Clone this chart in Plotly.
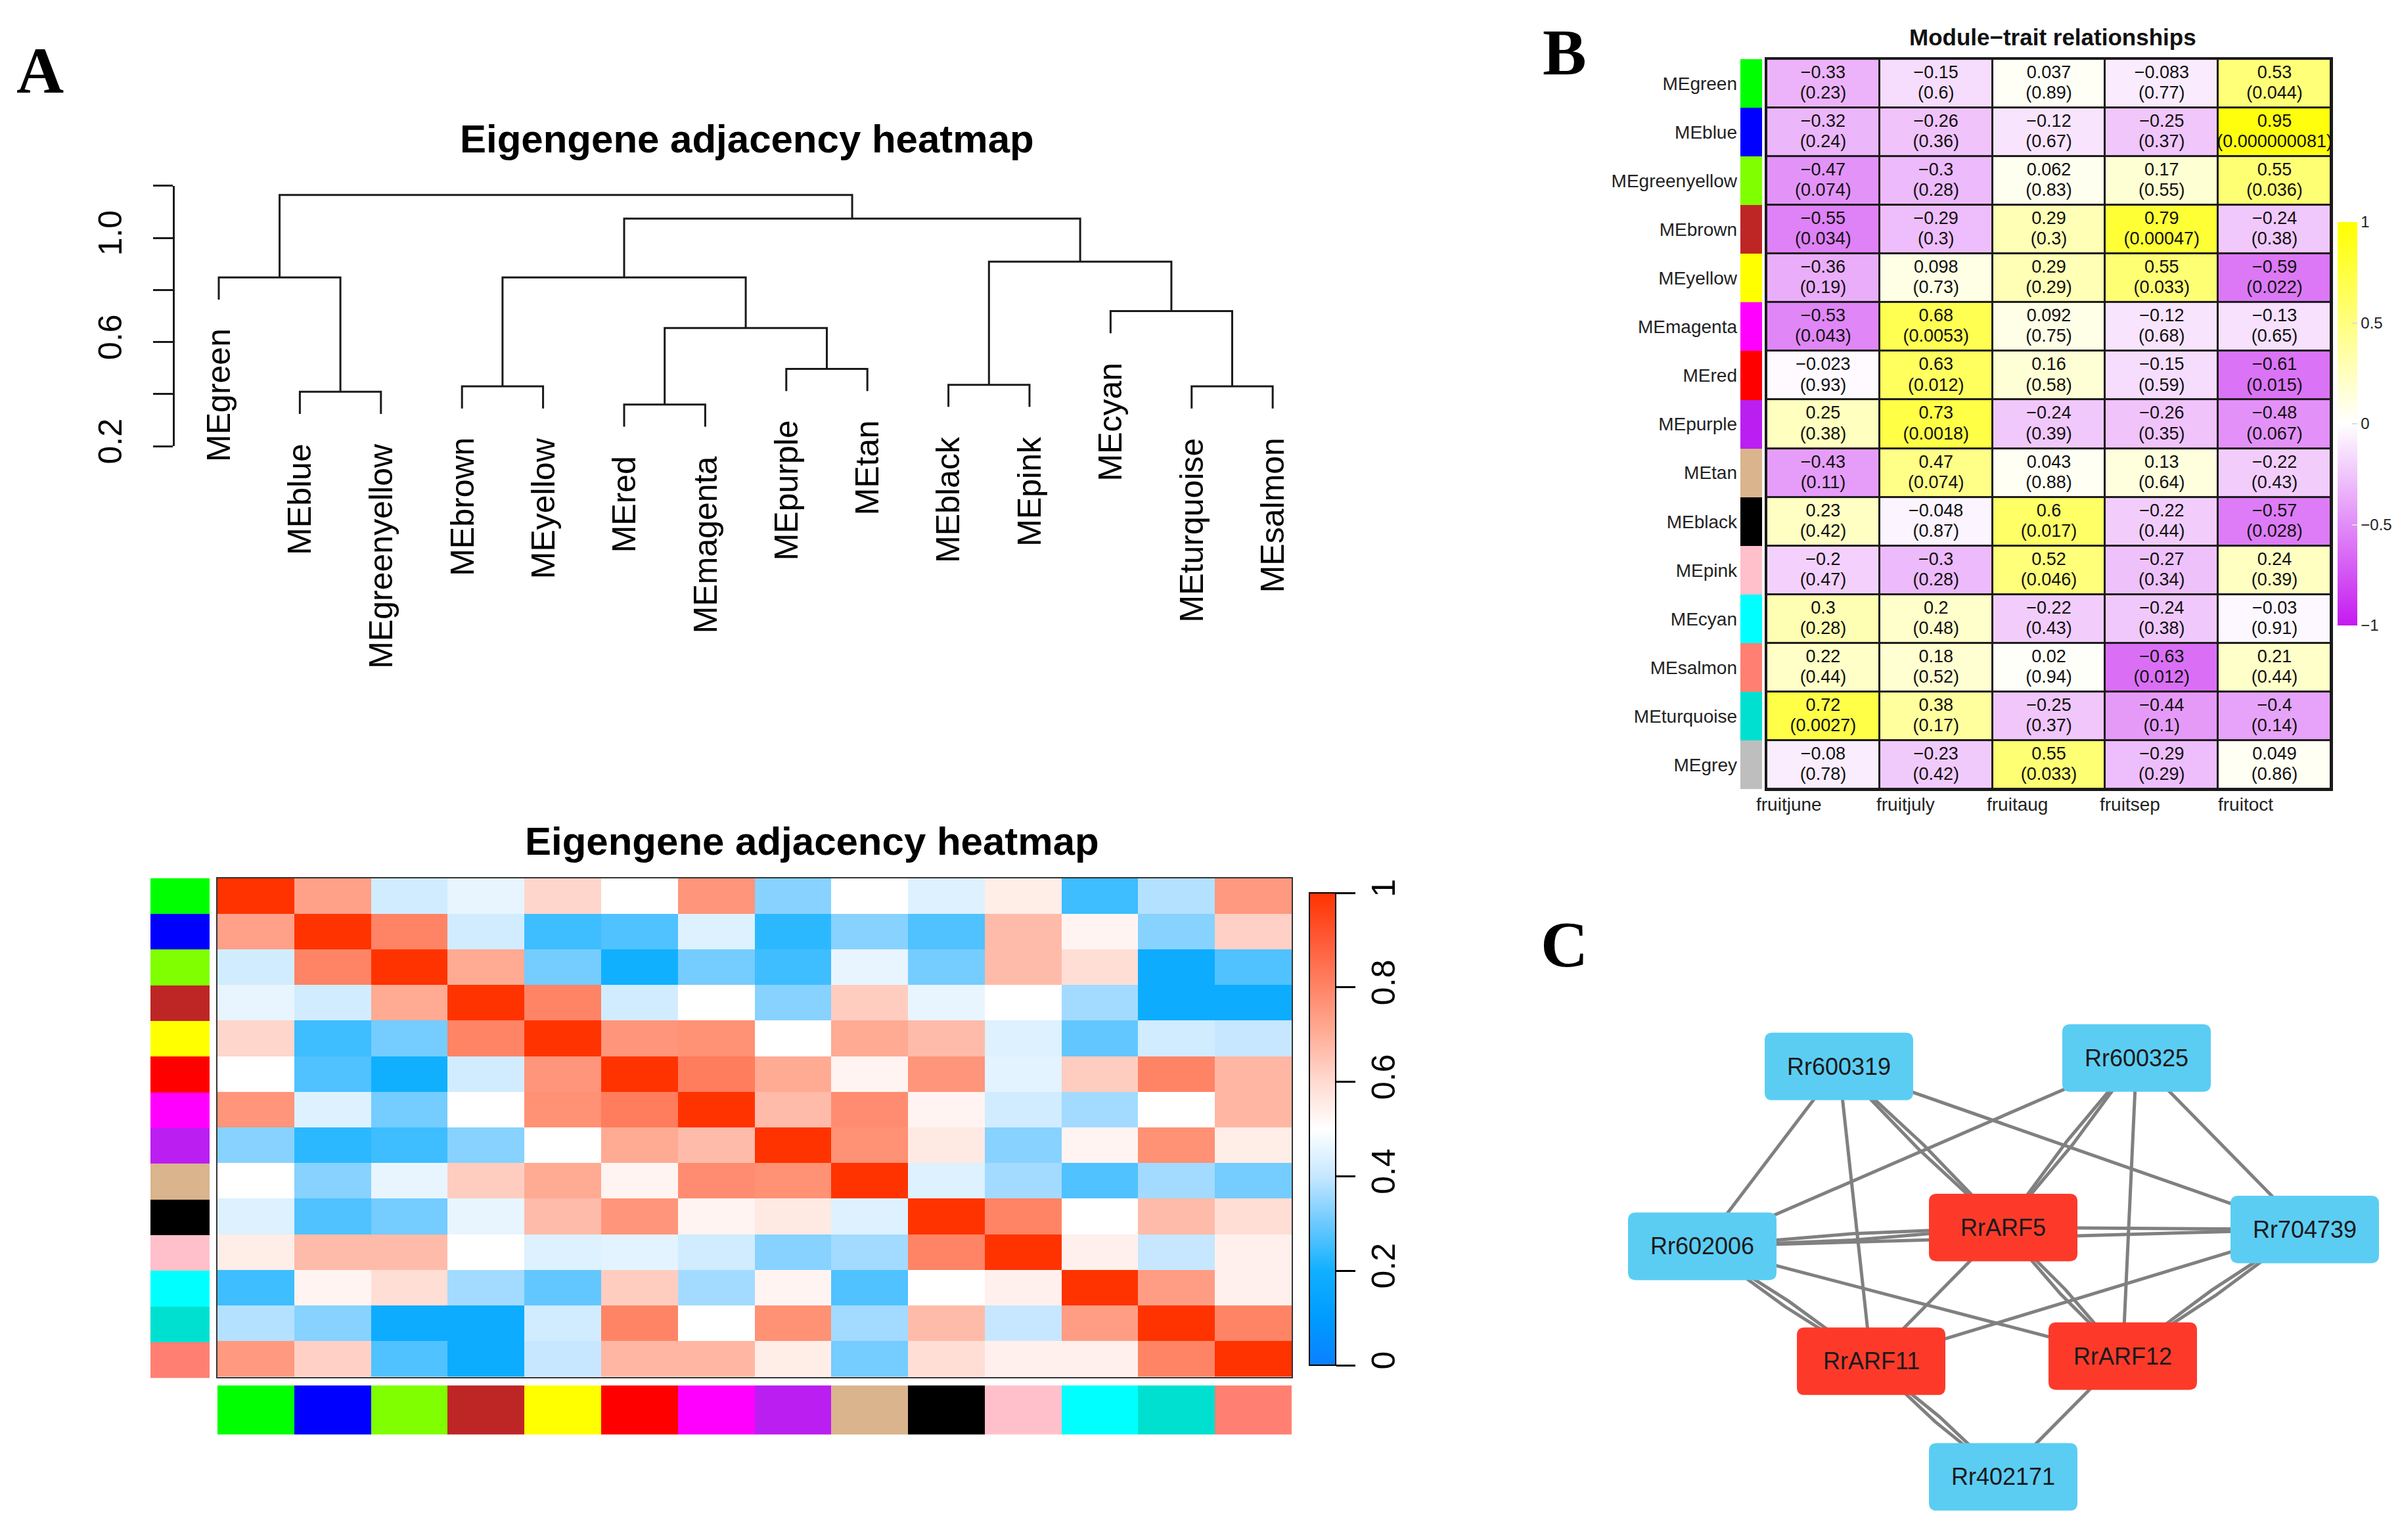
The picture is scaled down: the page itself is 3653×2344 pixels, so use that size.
import plotly.graph_objects as go

W, H = 3653, 2344
FONT = "Liberation Sans, Arial, sans-serif"
SERIF = "Liberation Serif, Times New Roman, serif"

# ---------------- Panel A: dendrogram ----------------
leaf_names = ["MEgreen", "MEblue", "MEgreenyellow", "MEbrown", "MEyellow", "MEred",
              "MEmagenta", "MEpurple", "MEtan", "MEblack", "MEpink", "MEcyan",
              "MEturquoise", "MEsalmon"]
# hclust-style merges: negative = leaf (1-based), positive = earlier merge (1-based)
merge_left = [-2, -6, -4, -13, -10, -8, 2, -12, -1, 3, 5, 10, 9]
merge_right = [-3, -7, -5, -14, -11, -9, 6, 4, 1, 7, 8, 11, 12]
merge_height = [0.409, 0.360, 0.430, 0.430, 0.436, 0.497, 0.654, 0.719, 0.848,
                0.848, 0.909, 1.074, 1.165]
leaf_hang = 0.085
dendro_ticks = [0.2, 0.4, 0.6, 0.8, 1.0, 1.2]
dendro_ticktext = ["0.2", "", "0.6", "", "1.0", ""]

# ---------------- Panel A: eigengene adjacency heatmap ----------------
module_colors_a = ["#00FF00", "#0000FF", "#7FFF00", "#BE2626", "#FFFF00", "#FF0000",
                   "#FF00FF", "#BB1EF0", "#DAB48C", "#000000", "#FFC0CB", "#00FFFF",
                   "#00E0D0", "#FF8072"]
adjacency = [
    [1.00, 0.73, 0.42, 0.46, 0.61, 0.50, 0.76, 0.33, 0.50, 0.44, 0.55, 0.25, 0.38, 0.75],
    [0.73, 1.00, 0.80, 0.42, 0.25, 0.27, 0.44, 0.23, 0.33, 0.27, 0.67, 0.53, 0.33, 0.62],
    [0.42, 0.80, 1.00, 0.71, 0.31, 0.20, 0.31, 0.25, 0.46, 0.31, 0.67, 0.59, 0.18, 0.27],
    [0.46, 0.42, 0.71, 1.00, 0.80, 0.42, 0.50, 0.33, 0.63, 0.46, 0.50, 0.36, 0.18, 0.18],
    [0.61, 0.25, 0.31, 0.80, 1.00, 0.76, 0.77, 0.50, 0.71, 0.67, 0.44, 0.29, 0.42, 0.40],
    [0.50, 0.27, 0.20, 0.42, 0.76, 1.00, 0.82, 0.71, 0.53, 0.76, 0.45, 0.63, 0.80, 0.68],
    [0.76, 0.44, 0.31, 0.50, 0.77, 0.82, 1.00, 0.67, 0.78, 0.53, 0.42, 0.36, 0.50, 0.68],
    [0.33, 0.23, 0.25, 0.33, 0.50, 0.71, 0.67, 1.00, 0.77, 0.56, 0.33, 0.53, 0.77, 0.55],
    [0.50, 0.33, 0.46, 0.63, 0.71, 0.53, 0.78, 0.77, 1.00, 0.44, 0.36, 0.27, 0.36, 0.31],
    [0.44, 0.27, 0.31, 0.46, 0.67, 0.76, 0.53, 0.56, 0.44, 1.00, 0.80, 0.50, 0.67, 0.59],
    [0.55, 0.67, 0.67, 0.50, 0.44, 0.45, 0.42, 0.33, 0.36, 0.80, 1.00, 0.54, 0.40, 0.54],
    [0.25, 0.53, 0.59, 0.36, 0.29, 0.63, 0.36, 0.53, 0.27, 0.50, 0.54, 1.00, 0.74, 0.54],
    [0.38, 0.33, 0.18, 0.18, 0.42, 0.80, 0.50, 0.77, 0.36, 0.67, 0.40, 0.74, 1.00, 0.80],
    [0.75, 0.62, 0.27, 0.18, 0.40, 0.68, 0.68, 0.55, 0.31, 0.59, 0.54, 0.54, 0.80, 1.00],
]
adj_ticks = [0, 0.2, 0.4, 0.6, 0.8, 1]
adj_ticktext = ["0", "0.2", "0.4", "0.6", "0.8", "1"]
adj_colorscale = [[0.0, "#0A80FF"], [0.1, "#009BFF"], [0.2, "#10B0FF"], [0.3, "#6CC9FF"],
                  [0.4, "#C6E7FF"], [0.5, "#FFFFFF"], [0.6, "#FFDAD1"], [0.7, "#FFAE98"],
                  [0.8, "#FF8466"], [0.9, "#FF5A37"], [1.0, "#FF3300"]]

# ---------------- Panel B: module-trait relationships ----------------
mt_modules = ["MEgreen", "MEblue", "MEgreenyellow", "MEbrown", "MEyellow", "MEmagenta",
              "MEred", "MEpurple", "MEtan", "MEblack", "MEpink", "MEcyan", "MEsalmon",
              "MEturquoise", "MEgrey"]
mt_colors = ["#00FF00", "#0000FF", "#7FFF00", "#BE2626", "#FFFF00", "#FF00FF", "#FF0000",
             "#BB1EF0", "#DAB48C", "#000000", "#FFC0CB", "#00FFFF", "#FF8072", "#00E0D0",
             "#BEBEBE"]
traits = ["fruitjune", "fruitjuly", "fruitaug", "fruitsep", "fruitoct"]
mt_cor = [
    [-0.33, -0.15, 0.037, -0.083, 0.53],
    [-0.32, -0.26, -0.12, -0.25, 0.95],
    [-0.47, -0.3, 0.062, 0.17, 0.55],
    [-0.55, -0.29, 0.29, 0.79, -0.24],
    [-0.36, 0.098, 0.29, 0.55, -0.59],
    [-0.53, 0.68, 0.092, -0.12, -0.13],
    [-0.023, 0.63, 0.16, -0.15, -0.61],
    [0.25, 0.73, -0.24, -0.26, -0.48],
    [-0.43, 0.47, 0.043, 0.13, -0.22],
    [0.23, -0.048, 0.6, -0.22, -0.57],
    [-0.2, -0.3, 0.52, -0.27, 0.24],
    [0.3, 0.2, -0.22, -0.24, -0.03],
    [0.22, 0.18, 0.02, -0.63, 0.21],
    [0.72, 0.38, -0.25, -0.44, -0.4],
    [-0.08, -0.23, 0.55, -0.29, 0.049],
]
mt_p = [
    ["0.23", "0.6", "0.89", "0.77", "0.044"],
    ["0.24", "0.36", "0.67", "0.37", "0.000000081"],
    ["0.074", "0.28", "0.83", "0.55", "0.036"],
    ["0.034", "0.3", "0.3", "0.00047", "0.38"],
    ["0.19", "0.73", "0.29", "0.033", "0.022"],
    ["0.043", "0.0053", "0.75", "0.68", "0.65"],
    ["0.93", "0.012", "0.58", "0.59", "0.015"],
    ["0.38", "0.0018", "0.39", "0.35", "0.067"],
    ["0.11", "0.074", "0.88", "0.64", "0.43"],
    ["0.42", "0.87", "0.017", "0.44", "0.028"],
    ["0.47", "0.28", "0.046", "0.34", "0.39"],
    ["0.28", "0.48", "0.43", "0.38", "0.91"],
    ["0.44", "0.52", "0.94", "0.012", "0.44"],
    ["0.0027", "0.17", "0.37", "0.1", "0.14"],
    ["0.78", "0.42", "0.033", "0.29", "0.86"],
]
mt_ticks = [-1, -0.5, 0, 0.5, 1]
mt_ticktext = ["\u22121", "\u22120.5", "0", "0.5", "1"]
mt_colorscale = [[0.0, "#C41AF0"], [0.5, "#FFFFFF"], [1.0, "#FFFF00"]]

# ---------------- Panel C: network ----------------
node_names = ["Rr600319", "Rr600325", "Rr602006", "RrARF5", "Rr704739", "RrARF11",
              "RrARF12", "Rr402171"]
node_x = [2791, 3244, 2583, 3041, 3500, 2840, 3223, 3041]
node_y = [1634, 1621, 1911, 1882, 1885, 2088, 2080, 2266]
node_is_arf = [False, False, False, True, False, True, True, False]
edge_from = ["Rr600319", "Rr600319", "Rr600319", "Rr600319", "Rr600325", "Rr600325",
             "Rr600325", "Rr600325", "Rr602006", "Rr602006", "Rr602006", "Rr602006",
             "RrARF5", "RrARF5", "RrARF5", "Rr704739", "Rr704739", "RrARF11", "RrARF12"]
edge_to = ["Rr602006", "RrARF11", "RrARF5", "Rr704739", "Rr602006", "RrARF5",
           "RrARF12", "Rr704739", "RrARF5", "Rr704739", "RrARF11", "RrARF12",
           "RrARF11", "RrARF12", "Rr704739", "RrARF11", "RrARF12", "Rr402171", "Rr402171"]
edge_count = [1, 1, 2, 1, 1, 2, 1, 1, 2, 1, 2, 1, 1, 2, 1, 1, 2, 2, 1]


# ================= helpers =================
def dom_x(a, b):
    return [a / W, b / W]


def dom_y(top, bottom):
    return [1 - bottom / H, 1 - top / H]


def discrete_scale(colors):
    n = len(colors)
    return [[i / (n - 1), c] for i, c in enumerate(colors)]


fig = go.Figure()
annotations = []
shapes = []

# ---------- dendrogram ----------
n_leaf = len(leaf_names)
merge_x = []
dx, dy = [], []
leaf_bottom = [None] * n_leaf


def child_pos(c, h):
    if c < 0:
        k = -c
        bottom = h - leaf_hang
        leaf_bottom[k - 1] = bottom
        return k, bottom
    return merge_x[c - 1], merge_height[c - 1]


for l, r, h in zip(merge_left, merge_right, merge_height):
    xl, yl = child_pos(l, h)
    xr, yr = child_pos(r, h)
    dx += [xl, xl, xr, xr, None]
    dy += [yl, h, h, yr, None]
    merge_x.append((xl + xr) / 2)

fig.add_trace(go.Scatter(x=[1], y=[0.7], mode="markers", marker=dict(opacity=0),
                         xaxis="x", yaxis="y2", hoverinfo="skip", showlegend=False))
fig.add_trace(go.Scatter(x=dx, y=dy, mode="lines", line=dict(color="#1a1a1a", width=3),
                         xaxis="x", yaxis="y", hoverinfo="skip", showlegend=False))
for k, name in enumerate(leaf_names):
    annotations.append(dict(x=k + 1, y=leaf_bottom[k] - 0.107, xref="x", yref="y",
                            text=name, textangle=-90, showarrow=False, xanchor="center",
                            yanchor="top", font=dict(family=FONT, size=50, color="black")))

# ---------- adjacency heatmap ----------
idx = list(range(n_leaf))
fig.add_trace(go.Heatmap(
    z=adjacency, x=idx, y=idx, zmin=0, zmax=1, colorscale=adj_colorscale,
    xaxis="x2", yaxis="y3", hoverinfo="skip",
    colorbar=dict(x=1985 / W, xanchor="left", y=1 - (1367 + 2094) / 2 / H, yanchor="middle",
                  len=(2094 - 1367) / H, lenmode="fraction", thickness=40,
                  thicknessmode="pixels", xpad=0, ypad=0, outlinewidth=2,
                  outlinecolor="black", ticks="outside", ticklen=29, tickwidth=2.5,
                  tickcolor="black", tickvals=adj_ticks, ticktext=adj_ticktext,
                  tickangle=-90, tickfont=dict(family=FONT, size=50, color="black"))))
fig.add_trace(go.Heatmap(z=[[i] for i in idx], x=[0], y=idx, zmin=0, zmax=n_leaf - 1,
                         colorscale=discrete_scale(module_colors_a), showscale=False,
                         xaxis="x3", yaxis="y4", hoverinfo="skip"))
fig.add_trace(go.Heatmap(z=[idx], x=idx, y=[0], zmin=0, zmax=n_leaf - 1,
                         colorscale=discrete_scale(module_colors_a), showscale=False,
                         xaxis="x4", yaxis="y5", hoverinfo="skip"))

# ---------- module-trait heatmap ----------
n_mod, n_tr = len(mt_modules), len(traits)
ridx, cidx = list(range(n_mod)), list(range(n_tr))
fig.add_trace(go.Heatmap(z=[[0] * n_tr for _ in ridx], x=cidx, y=ridx,
                         colorscale=[[0, "#1a1a1a"], [1, "#1a1a1a"]], showscale=False,
                         xaxis="x5", yaxis="y6", hoverinfo="skip"))
fig.add_trace(go.Heatmap(
    z=mt_cor, x=cidx, y=ridx, zmin=-1, zmax=1, colorscale=mt_colorscale, xgap=3, ygap=3,
    xaxis="x5", yaxis="y6", hoverinfo="skip",
    colorbar=dict(x=3550 / W, xanchor="left", y=1 - 644.5 / H, yanchor="middle",
                  len=621 / H, lenmode="fraction", thickness=30, thicknessmode="pixels",
                  xpad=0, ypad=0, outlinewidth=0, ticks="inside", ticklen=8,
                  tickcolor="#dddddd", tickwidth=2, tickvals=mt_ticks,
                  ticktext=mt_ticktext,
                  tickfont=dict(family=FONT, size=24, color="#222222"))))


def fmt(v):
    return str(v).replace("-", "\u2212")


tx, ty1, ty2, t1, t2 = [], [], [], [], []
for i in ridx:
    for j in cidx:
        tx.append(j)
        ty1.append(i - 0.2)
        ty2.append(i + 0.22)
        t1.append(fmt(mt_cor[i][j]))
        t2.append("(" + mt_p[i][j] + ")")
for yy, tt in ((ty1, t1), (ty2, t2)):
    fig.add_trace(go.Scatter(x=tx, y=yy, text=tt, mode="text", cliponaxis=False,
                             textfont=dict(family=FONT, size=27, color="#111111"),
                             xaxis="x5", yaxis="y6", hoverinfo="skip", showlegend=False))
fig.add_trace(go.Heatmap(z=[[i] for i in ridx], x=[0], y=ridx, zmin=0, zmax=n_mod - 1,
                         colorscale=discrete_scale(mt_colors), showscale=False,
                         xaxis="x6", yaxis="y7", hoverinfo="skip"))
for j, tname in enumerate(traits):
    annotations.append(dict(x=j, y=1 - 1231 / H, xref="x5", yref="paper", text=tname,
                            showarrow=False, xanchor="right", yanchor="middle",
                            font=dict(family=FONT, size=28, color="#222222")))

# ---------- network ----------
pos = {n: (x, y) for n, x, y in zip(node_names, node_x, node_y)}
ex, ey = [], []
for a, b, m in zip(edge_from, edge_to, edge_count):
    (x0, y0), (x1, y1) = pos[a], pos[b]
    ddx, ddy = x1 - x0, y1 - y0
    L = (ddx ** 2 + ddy ** 2) ** 0.5
    nx, ny = -ddy / L, ddx / L
    for k in range(m):
        off = (k - (m - 1) / 2) * 10
        ex += [x0, (x0 + x1) / 2 + nx * off, x1, None]
        ey += [y0, (y0 + y1) / 2 + ny * off, y1, None]
fig.add_trace(go.Scatter(x=ex, y=ey, mode="lines", line=dict(color="#808080", width=5),
                         xaxis="x7", yaxis="y8", hoverinfo="skip", showlegend=False))

bw, bh, rad = 226, 104, 12
for name, x, y, arf in zip(node_names, node_x, node_y, node_is_arf):
    l, r, t, b = x - bw / 2, x + bw / 2, y - bh / 2, y + bh / 2
    path = (f"M{l + rad},{t} L{r - rad},{t} Q{r},{t} {r},{t + rad} L{r},{b - rad} "
            f"Q{r},{b} {r - rad},{b} L{l + rad},{b} Q{l},{b} {l},{b - rad} "
            f"L{l},{t + rad} Q{l},{t} {l + rad},{t} Z")
    shapes.append(dict(type="path", path=path, xref="x7", yref="y8",
                       fillcolor="#FD3A2A" if arf else "#5BCDF3",
                       line=dict(width=0), layer="above"))
    annotations.append(dict(x=x, y=y, xref="x7", yref="y8", text=name, showarrow=False,
                            xanchor="center", yanchor="middle",
                            font=dict(family=FONT, size=36, color="#1a1a1a")))

# ---------- titles and panel letters ----------
title_specs = [
    ("<b>Eigengene adjacency heatmap</b>", 1129, 206, 60, "black"),
    ("<b>Eigengene adjacency heatmap</b>", 1228, 1287, 60, "black"),
    ("<b>Module\u2212trait relationships</b>", 3116, 49, 35, "#111111"),
]
for txt, px, py, fs, col in title_specs:
    annotations.append(dict(x=px / W, y=1 - py / H, xref="paper", yref="paper", text=txt,
                            showarrow=False, xanchor="center", yanchor="middle",
                            font=dict(family=FONT, size=fs, color=col)))
for letter, lx, ly in (("A", 53, 101), ("B", 2373, 72), ("C", 2373, 1446)):
    annotations.append(dict(x=lx / W, y=1 - ly / H, xref="paper", yref="paper",
                            text=f"<b>{letter}</b>", showarrow=False, xanchor="center",
                            yanchor="middle",
                            font=dict(family=SERIF, size=100, color="black")))

hidden = dict(visible=False, showgrid=False, zeroline=False)
fig.update_layout(
    width=W, height=H, margin=dict(l=0, r=0, t=0, b=0, pad=0),
    paper_bgcolor="white", plot_bgcolor="rgba(0,0,0,0)", showlegend=False,
    hovermode=False,
    xaxis=dict(domain=dom_x(258, 2000), range=[0.457, 14.574], anchor="y", **hidden),
    yaxis=dict(domain=dom_y(278, 1100), range=[-0.8499, 1.2], anchor="x", **hidden),
    yaxis2=dict(domain=dom_y(278, 679), range=[0.2, 1.2], anchor="x", side="left",
                showline=True, linecolor="#1a1a1a", linewidth=3, ticks="outside",
                ticklen=30, tickwidth=3, tickcolor="#1a1a1a", tickvals=dendro_ticks,
                ticktext=dendro_ticktext, tickangle=-90, ticklabelstandoff=28,
                tickfont=dict(family=FONT, size=50, color="black"),
                showgrid=False, zeroline=False),
    xaxis2=dict(domain=dom_x(323, 1958), range=[-0.5, 13.5], anchor="y3",
                showline=True, mirror=True, linecolor="#333333", linewidth=2,
                showticklabels=False, ticks="", showgrid=False, zeroline=False),
    yaxis3=dict(domain=dom_y(1344, 2112), range=[13.5, -0.5], anchor="x2",
                showline=True, mirror=True, linecolor="#333333", linewidth=2,
                showticklabels=False, ticks="", showgrid=False, zeroline=False),
    xaxis3=dict(domain=dom_x(221, 311), range=[-0.5, 0.5], anchor="y4", **hidden),
    yaxis4=dict(domain=dom_y(1344, 2114), range=[13.5, -0.5], anchor="x3", **hidden),
    xaxis4=dict(domain=dom_x(323, 1958), range=[-0.5, 13.5], anchor="y5", **hidden),
    yaxis5=dict(domain=dom_y(2125, 2201), range=[0.5, -0.5], anchor="x4", **hidden),
    xaxis5=dict(domain=dom_x(2681, 3540), range=[-0.5, 4.5], anchor="y6",
                showline=True, mirror=True, linecolor="#1a1a1a", linewidth=3,
                showticklabels=False, ticks="", showgrid=False, zeroline=False),
    yaxis6=dict(domain=dom_y(83, 1207), range=[14.5, -0.5], anchor="x5",
                showline=True, mirror=True, linecolor="#1a1a1a", linewidth=3,
                showticklabels=False, ticks="", showgrid=False, zeroline=False),
    xaxis6=dict(domain=dom_x(2641, 2674), range=[-0.5, 0.5], anchor="y7", **hidden),
    yaxis7=dict(domain=dom_y(83, 1207), range=[14.5, -0.5], anchor="x6",
                showline=False, ticks="", tickvals=ridx, ticktext=mt_modules,
                ticklabelstandoff=4, showgrid=False, zeroline=False,
                tickfont=dict(family=FONT, size=28, color="#222222")),
    xaxis7=dict(domain=dom_x(2340, 3653), range=[2340, 3653], anchor="y8", **hidden),
    yaxis8=dict(domain=dom_y(1400, 2344), range=[2344, 1400], anchor="x7", **hidden),
    annotations=annotations, shapes=shapes,
)

fig.write_html("out.html")
